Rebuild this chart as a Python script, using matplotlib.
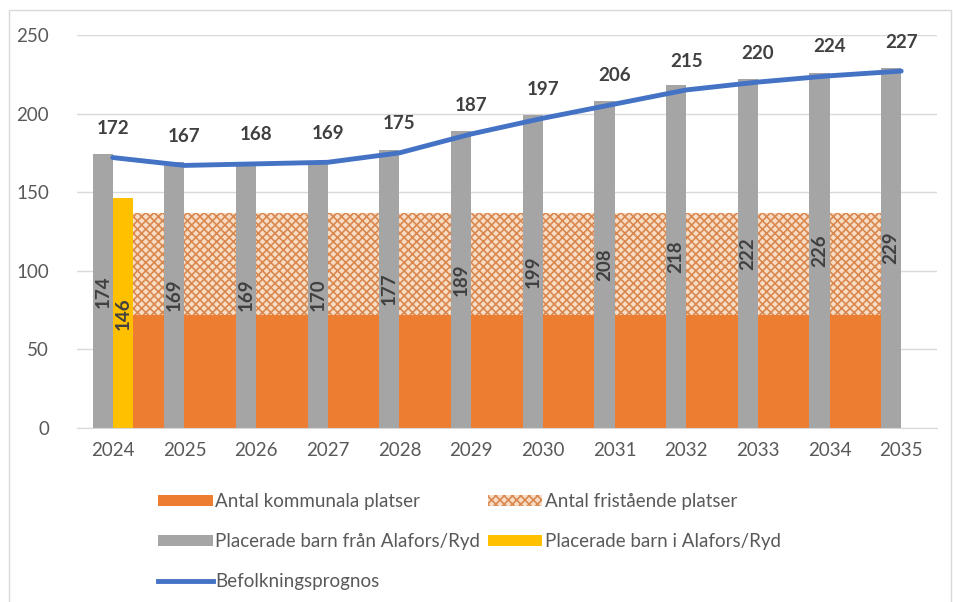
import matplotlib
matplotlib.use("Agg")
from matplotlib import pyplot as plt
from matplotlib.patches import Patch, Rectangle
from matplotlib.lines import Line2D
import numpy as np

years = ['2024', '2025', '2026', '2027', '2028', '2029', '2030', '2031', '2032', '2033', '2034', '2035']
kommunala = [72, 72, 72, 72, 72, 72, 72, 72, 72, 72, 72, 72]
fristaende = [65, 65, 65, 65, 65, 65, 65, 65, 65, 65, 65, 65]
barn_fran = [174, 169, 169, 170, 177, 189, 199, 208, 218, 222, 226, 229]
barn_i = [146]
prognos = [172, 167, 168, 169, 175, 187, 197, 206, 215, 220, 224, 227]

c_orange = '#ED7D31'
c_gray = '#A5A5A5'
c_yellow = '#FFC000'
c_blue = '#4472C4'
c_text = '#595959'
c_label = '#404040'
c_dot_face = '#F7DCC6'
c_dot = '#D9894F'

plt.rcParams['font.family'] = ['Lato', 'DejaVu Sans']
plt.rcParams['hatch.linewidth'] = 1.2
plt.rcParams['hatch.color'] = c_dot

fig = plt.figure(figsize=(9.54, 6.02), dpi=100)
ax = fig.add_axes([0.0807, 0.289, 0.9015, 0.653])
fig.patches.append(Rectangle((0.009, -0.01), 0.988, 0.993, transform=fig.transFigure,
                             fill=False, edgecolor='#D9D9D9', linewidth=1))

x = np.arange(len(years))
w = 0.28

# stacked area behind the bars
ax.fill_between(x, 0, kommunala, color=c_orange, linewidth=0, zorder=1)
top = np.array(kommunala) + np.array(fristaende)
ax.fill_between(x, kommunala, top, facecolor=c_dot_face, hatch='xxxx',
                edgecolor=c_dot, linewidth=0, zorder=1)

ax.bar(x - w / 2, barn_fran, width=w, color=c_gray, zorder=2)
ax.bar(x[:1] + w / 2, barn_i, width=w, color=c_yellow, zorder=2)

for xi, v in zip(x - w / 2, barn_fran):
    ax.text(xi, v / 2, str(v), rotation=90, ha='center', va='center',
            fontsize=13.5, fontweight='bold', color=c_label, zorder=4)
for xi, v in zip(x[:1] + w / 2, barn_i):
    ax.text(xi, v / 2, str(v), rotation=90, ha='center', va='center',
            fontsize=13.5, fontweight='bold', color=c_label, zorder=4)

ax.plot(x, prognos, color=c_blue, linewidth=3.5, zorder=3, solid_capstyle='round')
for xi, v in zip(x, prognos):
    ax.text(xi, v + 13, str(v), ha='center', va='bottom', fontsize=13.5,
            fontweight='bold', color=c_label, zorder=4)

ax.set_xlim(-0.5, 11.5)
ax.set_ylim(0, 250)
ax.set_yticks([0, 50, 100, 150, 200, 250])
ax.set_xticks(x)
ax.set_xticklabels(years)
ax.tick_params(axis='both', length=0, labelsize=13.5, labelcolor=c_text)
ax.tick_params(axis='x', pad=10)
ax.tick_params(axis='y', pad=20)
ax.grid(axis='y', color='#D9D9D9', linewidth=1, zorder=0)
ax.set_axisbelow(True)
for s in ['left', 'right', 'top']:
    ax.spines[s].set_visible(False)
ax.spines['bottom'].set_color('#D9D9D9')

handles = [
    Patch(facecolor=c_orange, label='Antal kommunala platser'),
    Patch(facecolor=c_gray, label='Placerade barn från Alafors/Ryd'),
    Line2D([0], [0], color=c_blue, linewidth=3.5, label='Befolkningsprognos'),
    Patch(facecolor=c_dot_face, hatch='xxxx', edgecolor=c_dot, linewidth=0,
          label='Antal fristående platser'),
    Patch(facecolor=c_yellow, label='Placerade barn i Alafors/Ryd'),
]
fig.legend(handles=handles, ncol=2, loc='upper left', bbox_to_anchor=(0.158, 0.193),
           frameon=False, fontsize=13.5, labelcolor=c_text, handlelength=2.9,
           handleheight=0.55, handletextpad=0.15, labelspacing=1.22, columnspacing=0.4,
           borderaxespad=0)

fig.savefig('out.png', dpi=100)
